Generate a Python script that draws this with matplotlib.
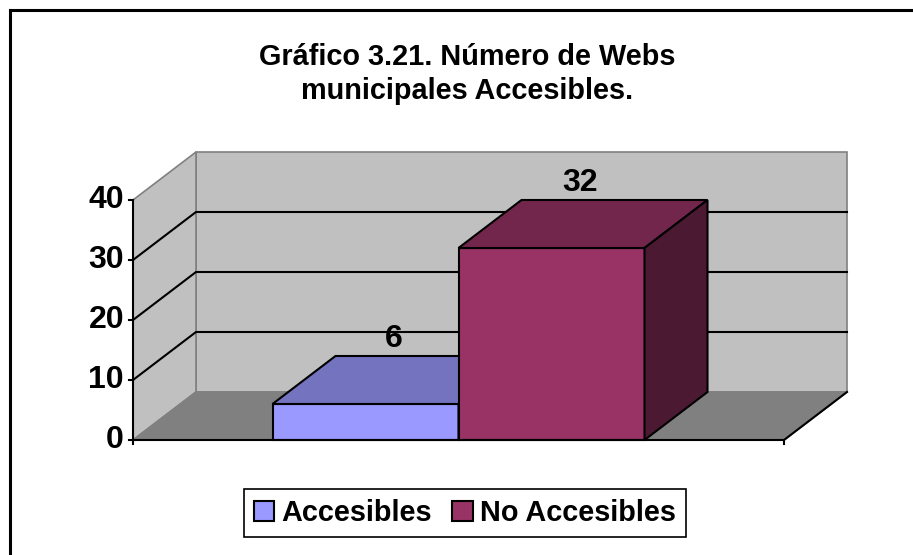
import matplotlib
matplotlib.use('Agg')
import matplotlib.pyplot as plt
from matplotlib.patches import Polygon, Rectangle
from matplotlib.lines import Line2D

categories = ['Accesibles', 'No Accesibles']
values = [6, 32]
front_colors = ['#9999FF', '#993366']
top_colors = ['#7373BF', '#73264C']
side_colors = ['#4C4C80', '#4C1933']
yticks = [0, 10, 20, 30, 40]
title_lines = ['Gráfico 3.21. Número de Webs', 'municipales Accesibles.']

W, H = 913, 555
FS = 20.8      # title / legend
FS_NUM = 23    # ticks and value labels

plt.rcParams['font.family'] = ['Liberation Sans', 'DejaVu Sans']
plt.rcParams['font.weight'] = 'bold'

fig = plt.figure(figsize=(W / 100, H / 100), dpi=100)
fig.patch.set_facecolor('white')

# the axes box is the front plane of the 3d frame
ax = fig.add_axes([133 / W, 1 - 440 / H, 651 / W, 240 / H])
ymax = yticks[-1]
ax.set_xlim(0, 1)
ax.set_ylim(0, ymax)
ax.axis('off')

DX = 63 / 651   # depth, in x units
DY = 8          # depth, in value units
px_x = 1 / 651
px_y = ymax / 240


def face(pts, fc, ec, lw=1.2, z=1):
    ax.add_patch(Polygon(pts, closed=True, facecolor=fc, edgecolor=ec,
                         linewidth=lw, zorder=z, clip_on=False,
                         joinstyle='miter'))


# walls and floor
face([(DX, DY), (1 + DX, DY), (1 + DX, ymax + DY), (DX, ymax + DY)],
     '#C0C0C0', '#808080', z=1)
face([(0, 0), (DX, DY), (DX, ymax + DY), (0, ymax)],
     '#C0C0C0', '#808080', z=1)
face([(0, 0), (1, 0), (1 + DX, DY), (DX, DY)], '#808080', '#808080', z=1)

# gridlines
for v in yticks[1:-1]:
    ax.plot([0, DX, 1 + DX], [v, v + DY, v + DY], color='black', lw=1.5,
            zorder=2, clip_on=False, solid_joinstyle='miter')

# value axis
ax.plot([0, 0], [0, ymax], color='black', lw=1.5, zorder=6, clip_on=False)
for v in yticks:
    ax.plot([-4 * px_x, 0], [v, v], color='black', lw=1.5, zorder=6,
            clip_on=False)
    ax.text(-9 * px_x, v, str(v), ha='right', va='center', fontsize=FS_NUM,
            fontweight='bold')

# category axis
ax.plot([0, 1, 1 + DX], [0, 0, DY], color='black', lw=1.5, zorder=6,
        clip_on=False)
for xt in (0, 1):
    ax.plot([xt, xt], [0, -4 * px_y], color='black', lw=1.5, zorder=6,
            clip_on=False)

# bars, gap width 150%
bw = 1 / (len(values) + 1.5)
start = 0.75 * bw
for i, v in enumerate(values):
    x0 = start + i * bw
    x1 = x0 + bw
    z = 3 + i
    ax.add_patch(Rectangle((x0, 0), bw, v, facecolor=front_colors[i],
                           edgecolor='black', linewidth=1.5, zorder=z,
                           clip_on=False))
    face([(x0, v), (x1, v), (x1 + DX, v + DY), (x0 + DX, v + DY)],
         top_colors[i], 'black', lw=1.5, z=z)
    face([(x1, 0), (x1 + DX, DY), (x1 + DX, v + DY), (x1, v)],
         side_colors[i], 'black', lw=1.5, z=z)
    ax.annotate(str(v), xy=(x0 + bw / 2 + DX / 2 - 3 * px_x, v + DY),
                xytext=(0, 9), textcoords='offset pixels', ha='center',
                va='baseline', fontsize=FS_NUM, fontweight='bold', zorder=10,
                annotation_clip=False)

# title
fig.text(467 / W, 1 - 65 / H, title_lines[0], ha='center', va='baseline',
         fontsize=FS, fontweight='bold')
fig.text(467 / W, 1 - 99 / H, title_lines[1], ha='center', va='baseline',
         fontsize=FS, fontweight='bold')

# legend
handles = [Rectangle((0, 0), 1, 1, facecolor=c, edgecolor='black', lw=1.5)
           for c in front_colors]
leg = fig.legend(handles, categories, loc='center',
                 bbox_to_anchor=(465 / W, 1 - 513 / H), ncol=2,
                 frameon=True, fancybox=False, edgecolor='black',
                 framealpha=1, fontsize=FS, handlelength=0.7,
                 handleheight=0.7, handletextpad=0.25, columnspacing=0.7,
                 borderpad=0.35, borderaxespad=0)
leg.get_frame().set_linewidth(1.2)
for t in leg.get_texts():
    t.set_fontweight('bold')

# chart border (top and left edges)
fig.add_artist(Line2D([9.5 / W, 1], [1 - 9.5 / H, 1 - 9.5 / H],
                      transform=fig.transFigure, color='black', lw=2.2))
fig.add_artist(Line2D([9.5 / W, 9.5 / W], [0, 1 - 9.5 / H],
                      transform=fig.transFigure, color='black', lw=2.2))

fig.savefig('out.png', dpi=100)
